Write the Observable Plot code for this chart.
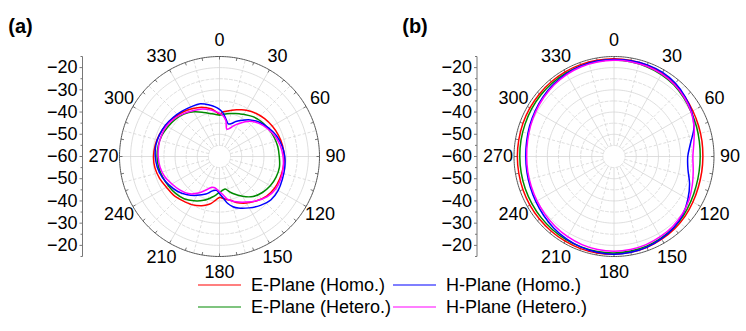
<!DOCTYPE html>
<html><head><meta charset="utf-8">
<script src="https://cdn.jsdelivr.net/npm/d3@7"></script>
<script src="https://cdn.jsdelivr.net/npm/@observablehq/plot@0.6"></script>
<style>
body{margin:0;background:#fff;font-family:"Liberation Sans",Arial,sans-serif;}
#wrap{position:relative;width:746px;height:331px;overflow:hidden;background:#fff;}
#legend{position:absolute;left:0;top:0;width:746px;height:331px;font-size:18px;color:#000;pointer-events:none;}
.item{position:absolute;display:flex;align-items:center;white-space:nowrap;transform:translateY(-50%);}
.sw{display:inline-block;width:43px;height:0;border-top:1.6px solid;margin-right:10px;}
</style></head><body><div id="wrap"><div id="legend"></div></div>
<script>
// ---------- data ----------
const seriesNames = ["E-Plane (Homo.)", "H-Plane (Homo.)", "E-Plane (Hetero.)", "H-Plane (Hetero.)"];
const seriesColors = ["#ff0000", "#0000ff", "#008a00", "#ff00ff"];
const angleLabels = [0, 30, 60, 90, 120, 150, 180, 210, 240, 270, 300, 330];
const radialTicks = [-20, -30, -40, -50, -60];
const gridRings = [-55, -50, -45, -40, -35, -30, -25, -20];
const panelTitles = ["(a)", "(b)"];

// panel (a)
const anglesA = [0,5,10,15,20,25,30,40,50,60,70,80,90,100,110,120,130,140,150,160,165,170,175,180,185,190,195,200,210,220,230,240,250,260,270,280,290,300,310,320,330,340,350,355];
const eHomoA = [-41.0,-39.8,-39.2,-38.4,-37.6,-36.8,-36.0,-34.6,-33.5,-32.6,-31.8,-31.2,-30.9,-30.9,-31.1,-31.4,-32.3,-34.0,-35.8,-38.0,-39.5,-40.3,-41.0,-41.6,-40.3,-38.6,-37.4,-36.4,-35.0,-34.1,-33.0,-32.4,-31.3,-30.5,-30.3,-30.6,-31.2,-32.0,-33.0,-34.0,-35.2,-36.4,-38.2,-39.6];
const hHomoA = [-38.8,-40.5,-43.0,-44.8,-44.2,-42.6,-41.3,-38.5,-36.2,-34.4,-32.7,-31.5,-30.6,-30.2,-29.9,-29.5,-29.7,-31.3,-33.3,-35.3,-36.6,-38.5,-41.3,-43.3,-44.7,-44.5,-43.4,-42.0,-39.8,-37.5,-35.5,-34.0,-32.6,-31.6,-31.1,-30.9,-31.3,-31.9,-32.7,-33.5,-34.2,-34.7,-36.6,-37.6];
const eHeteroA = [-41.4,-41.0,-40.5,-40.0,-39.4,-38.8,-38.1,-36.6,-35.5,-34.7,-34.0,-33.4,-33.1,-32.6,-32.9,-33.6,-34.8,-36.5,-39.3,-42.3,-43.8,-45.2,-44.7,-43.8,-42.7,-41.5,-40.2,-39.0,-37.0,-35.2,-34.2,-33.5,-32.8,-32.2,-31.9,-32.0,-32.4,-33.2,-34.0,-35.1,-36.8,-38.9,-40.5,-41.0];
const hHeteroA = [-40.5,-41.6,-43.6,-47.2,-46.5,-44.7,-43.0,-39.3,-36.8,-35.0,-33.4,-32.2,-31.4,-30.9,-30.6,-30.8,-31.9,-34.0,-36.3,-38.3,-39.4,-40.6,-42.8,-44.2,-45.3,-45.8,-45.6,-44.3,-41.0,-38.2,-36.6,-35.3,-33.7,-32.8,-32.4,-32.2,-32.2,-32.5,-33.5,-34.8,-36.2,-37.2,-38.8,-39.7];

// panel (b)
const anglesB = [0,10,20,30,40,50,60,70,80,90,100,110,120,130,140,150,160,170,180,190,200,210,220,230,240,250,260,270,280,290,300,310,320,330,340,350];
const eHomoB = [-16.0,-16.1,-16.3,-16.8,-17.4,-18.3,-19.0,-19.5,-19.8,-20.0,-19.9,-19.6,-19.0,-18.2,-17.5,-17.0,-16.5,-16.2,-16.0,-15.9,-15.9,-16.0,-16.1,-16.2,-16.3,-16.4,-16.5,-16.5,-16.5,-16.4,-16.3,-16.2,-16.1,-16.0,-16.0,-16.0];
const hHomoB = [-16.3,-16.2,-16.1,-16.3,-17.0,-18.2,-19.6,-21.7,-25.0,-26.8,-26.2,-23.8,-21.6,-19.5,-18.2,-17.3,-16.6,-16.2,-16.0,-16.2,-16.6,-17.2,-17.9,-18.7,-19.4,-19.9,-20.2,-20.3,-20.1,-19.6,-19.0,-18.3,-17.6,-17.0,-16.6,-16.4];
const eHeteroB = [-16.6,-16.7,-17.0,-17.4,-18.0,-19.0,-19.9,-20.5,-21.0,-21.2,-21.1,-20.7,-20.0,-19.0,-18.2,-17.6,-17.1,-16.8,-16.6,-16.6,-16.7,-16.8,-17.0,-17.2,-17.4,-17.5,-17.6,-17.6,-17.5,-17.4,-17.2,-17.0,-16.8,-16.7,-16.6,-16.6];
const hHeteroB = [-16.7,-16.7,-16.8,-17.1,-17.7,-18.7,-19.9,-21.6,-23.5,-24.5,-23.8,-22.5,-21.0,-19.8,-18.9,-18.3,-17.8,-17.5,-17.4,-17.5,-17.8,-18.3,-18.9,-19.5,-20.0,-20.4,-20.6,-20.7,-20.5,-20.0,-19.4,-18.7,-18.0,-17.4,-17.0,-16.8];

// ---------- layout ----------
const W = 746, H = 284;
const K = 2.222;          // px per dB
const CY = 156, CXA = 219, CXB = 613.5, AXIS_DX = 137;
const R0 = -60, ROUT = -15;
const offB = (CXB - CXA) / K;
const rOf = v => v - R0;
const RMAX = rOf(ROUT);
const px = p => p / K;
function P(a, r, off) { const t = a * Math.PI / 180; return {x: off + r * Math.sin(t), y: r * Math.cos(t)}; }

const panels = [
  {off: 0, angles: anglesA, series: [eHomoA, hHomoA, eHeteroA, hHeteroA]},
  {off: offB, angles: anglesB, series: [eHomoB, hHomoB, eHeteroB, hHeteroB]}
];
const drawOrder = [0, 2, 1, 3];

const curves = [], rings = [], outer = [], spokes = [], otick = [], alabels = [], axisLines = [], ticks = [], rlabels = [], titles = [];
panels.forEach((p, pi) => {
  drawOrder.forEach(si => {
    p.angles.forEach((a, i) => curves.push({...P(a, rOf(p.series[si][i]), p.off), s: seriesNames[si], key: pi + "-" + si}));
  });
  gridRings.forEach(g => { for (let a = 0; a < 360; a += 2) rings.push({...P(a, rOf(g), p.off), key: pi + "-" + g, dashed: (g % 10 !== 0)}); });
  for (let a = 0; a < 360; a += 1) outer.push({...P(a, RMAX, p.off), key: pi});
  for (let a = 0; a < 360; a += 15) {
    const A = P(a, rOf(-55), p.off), B = P(a, RMAX, p.off);
    spokes.push({x1: A.x, y1: A.y, x2: B.x, y2: B.y, dashed: a % 30 !== 0});
  }
  for (let a = 0; a < 360; a += 10) {
    const A = P(a, RMAX - px(3), p.off), B = P(a, RMAX, p.off);
    otick.push({x1: A.x, y1: A.y, x2: B.x, y2: B.y});
  }
  angleLabels.forEach(a => alabels.push({...P(a, px(116), p.off), t: String(a)}));
  const ax = p.off - px(AXIS_DX);
  axisLines.push({x1: ax, x2: ax, y1: -RMAX, y2: RMAX});
  for (let v = -60; v <= ROUT; v += 5) {
    const r = rOf(v), major = v % 10 === 0;
    const len = major ? px(3) : px(2);
    const ys = r === 0 ? [0] : [r, -r];
    ys.forEach(y => ticks.push({x1: ax - len, x2: ax, y1: y, y2: y}));
  }
  radialTicks.forEach(v => {
    const r = rOf(v);
    const ys = r === 0 ? [0] : [r, -r];
    ys.forEach(y => rlabels.push({x: ax - px(5), y, t: "\u2212" + Math.abs(v)}));
  });
  titles.push({x: p.off - px(CXA - 20) + (pi ? px(CXB - CXA - (CXB - 414.5)) - px(CXB - CXA) + px(CXB - CXA) : 0), y: px(CY - 26), t: panelTitles[pi]});
});
titles[1].x = offB + px(414.5 - CXB);

const chart = Plot.plot({
  width: W, height: H, margin: 0,
  style: {fontFamily: "'Liberation Sans', Arial, sans-serif", background: "#fff"},
  x: {domain: [px(-CXA), px(W - CXA)], axis: null},
  y: {domain: [px(-(H - CY)), px(CY)], axis: null},
  color: {domain: seriesNames, range: seriesColors},
  marks: [
    Plot.line(rings.filter(d => !d.dashed), {x: "x", y: "y", z: "key", curve: "linear-closed", stroke: "#d6d6d6", strokeWidth: 0.8}),
    Plot.line(rings.filter(d => d.dashed), {x: "x", y: "y", z: "key", curve: "linear-closed", stroke: "#d6d6d6", strokeWidth: 0.8, strokeDasharray: "3,2"}),
    Plot.link(spokes.filter(d => !d.dashed), {x1: "x1", y1: "y1", x2: "x2", y2: "y2", stroke: "#d6d6d6", strokeWidth: 0.8}),
    Plot.link(spokes.filter(d => d.dashed), {x1: "x1", y1: "y1", x2: "x2", y2: "y2", stroke: "#d6d6d6", strokeWidth: 0.8, strokeDasharray: "3,2"}),
    Plot.line(outer, {x: "x", y: "y", z: "key", curve: "linear-closed", stroke: "#555", strokeWidth: 1}),
    Plot.link(otick, {x1: "x1", y1: "y1", x2: "x2", y2: "y2", stroke: "#555", strokeWidth: 0.8}),
    Plot.line(curves, {x: "x", y: "y", z: "key", stroke: "s", curve: "catmull-rom-closed", strokeWidth: 1.5}),
    Plot.link(axisLines, {x1: "x1", y1: "y1", x2: "x2", y2: "y2", stroke: "#777", strokeWidth: 1}),
    Plot.link(ticks, {x1: "x1", y1: "y1", x2: "x2", y2: "y2", stroke: "#777", strokeWidth: 1}),
    Plot.text(rlabels, {x: "x", y: "y", text: "t", textAnchor: "end", fontSize: 18, fill: "#000"}),
    Plot.text(alabels, {x: "x", y: "y", text: "t", textAnchor: "middle", fontSize: 18, fill: "#000"}),
    Plot.text(titles, {x: "x", y: "y", text: "t", textAnchor: "middle", fontSize: 20, fontWeight: "bold", fill: "#000"})
  ]
});
document.getElementById("wrap").insertBefore(chart, document.getElementById("legend"));

// ---------- legend ----------
const legendPos = [[198, 285], [393, 285], [198, 307], [393, 307]];
const leg = document.getElementById("legend");
seriesNames.forEach((n, i) => {
  const d = document.createElement("div");
  d.className = "item";
  d.style.left = legendPos[i][0] + "px";
  d.style.top = legendPos[i][1] + "px";
  const sw = document.createElement("span");
  sw.className = "sw";
  sw.style.borderTopColor = seriesColors[i];
  const tx = document.createElement("span");
  tx.textContent = n;
  d.appendChild(sw); d.appendChild(tx);
  leg.appendChild(d);
});
</script></body></html>
